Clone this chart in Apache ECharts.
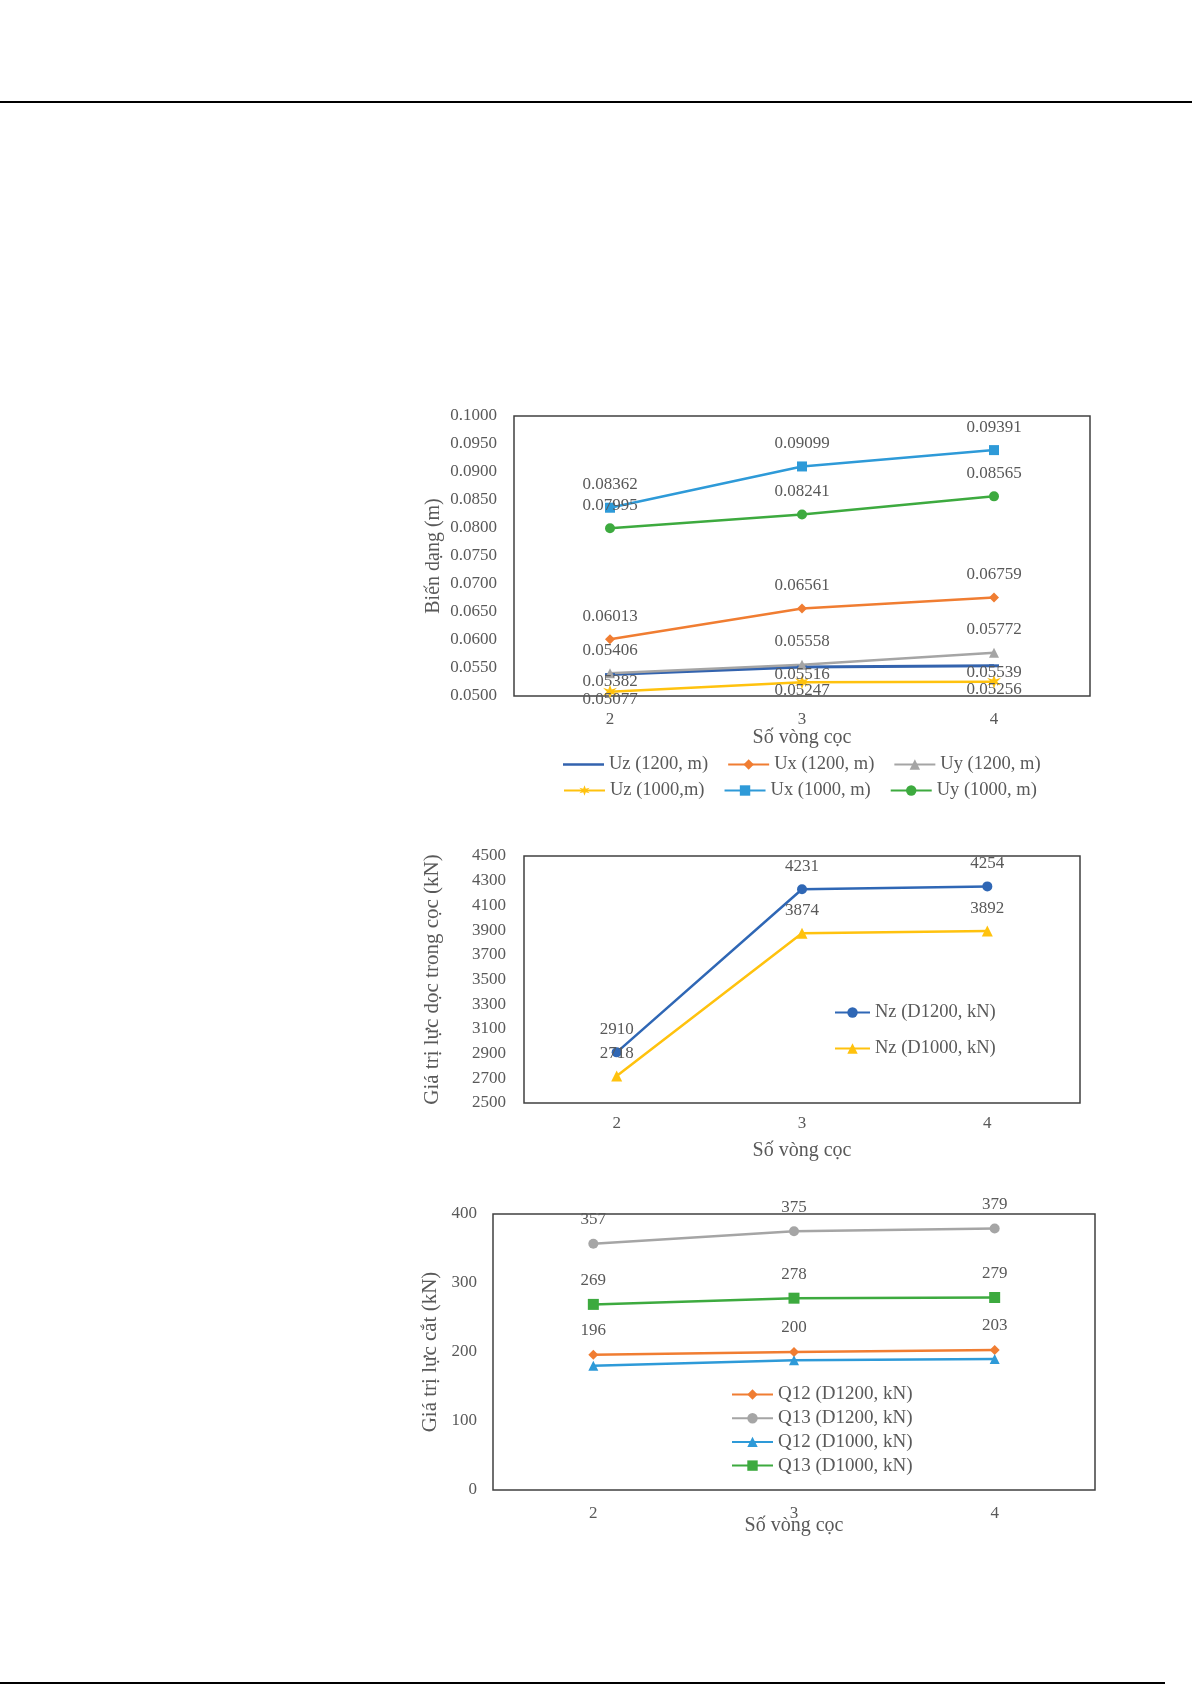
<!DOCTYPE html>
<html><head><meta charset="utf-8">
<script src="https://cdn.jsdelivr.net/npm/echarts@6/dist/echarts.min.js"></script>
<style>html,body{margin:0;padding:0;background:#fff}#c{width:1192px;height:1685px}</style>
</head><body><div id="c"></div><script>
// ---------- data ----------
const categories = ['2', '3', '4'];
// chart 1 : Biến dạng (m)
const uz1200 = [0.05382, 0.05516, 0.05539];
const ux1200 = [0.06013, 0.06561, 0.06759];
const uy1200 = [0.05406, 0.05558, 0.05772];
const uz1000 = [0.05077, 0.05247, 0.05256];
const ux1000 = [0.08362, 0.09099, 0.09391];
const uy1000 = [0.07995, 0.08241, 0.08565];
const yTicks1 = [0.05, 0.055, 0.06, 0.065, 0.07, 0.075, 0.08, 0.085, 0.09, 0.095, 0.1];
// chart 2 : Nz (kN)
const nz1200 = [2910, 4231, 4254];
const nz1000 = [2718, 3874, 3892];
const yTicks2 = [2500, 2700, 2900, 3100, 3300, 3500, 3700, 3900, 4100, 4300, 4500];
// chart 3 : Q (kN)
const q12d1200 = [196, 200, 203];
const q13d1200 = [357, 375, 379];
const q12d1000 = [180, 188, 190];
const q13d1000 = [269, 278, 279];
const yTicks3 = [0, 100, 200, 300, 400];

// ---------- style ----------
const FF = "'Liberation Serif','Times New Roman',serif";
const TXT = '#595959';
const C = {
  blueDark: '#3363AE', orange: '#F07D32', gray: '#A5A5A5',
  yellow: '#FFC20E', blue: '#2E9AD8', green: '#3DAA3F'
};
const starPath = 'path://M0,-10 L2.2,-3.2 L9,-5.5 L4,0 L9,5.5 L2.2,3.2 L0,10 L-2.2,3.2 L-9,5.5 L-4,0 L-9,-5.5 L-2.2,-3.2 Z';
const plainLineIcon = 'path://M0,0 L0.1,0 L0.1,0.1 Z M0,5.2 L41,5.2 L41,7.8 L0,7.8 Z M40.9,13 L41,13 L41,12.9 Z';

function lbl(dy, digits) {
  return {
    show: true, position: 'inside', offset: [0, dy],
    color: TXT, fontSize: 17, fontFamily: FF,
    formatter: p => digits ? Number(p.value).toFixed(digits) : String(p.value)
  };
}
function line(name, data, color, symbol, size, idx, label, width) {
  return {
    type: 'line', name, data, xAxisIndex: idx, yAxisIndex: idx,
    symbol, symbolSize: size, showSymbol: true,
    lineStyle: { color, width: width || 2.5 },
    itemStyle: { color },
    label: label || { show: false },
    z: 3
  };
}
function xAx(idx, margin, nameGap) {
  return {
    type: 'category', gridIndex: idx, data: categories, boundaryGap: true,
    axisLine: { show: false }, axisTick: { show: false }, splitLine: { show: false },
    axisLabel: { color: TXT, fontSize: 17, fontFamily: FF, margin },
    name: 'Số vòng cọc', nameLocation: 'middle', nameGap, nameMoveOverlap: false,
    nameTextStyle: { color: TXT, fontSize: 20, fontFamily: FF }
  };
}
function yAx(idx, min, max, ticks, fmt, name, nameGap, nameSize, margin) {
  return {
    type: 'value', gridIndex: idx, min, max,
    axisLine: { show: false }, axisTick: { show: false }, splitLine: { show: false },
    axisLabel: { color: TXT, fontSize: 17, fontFamily: FF, margin, customValues: ticks, formatter: fmt },
    name, nameLocation: 'middle', nameGap, nameRotate: 90,
    nameTextStyle: { color: TXT, fontSize: nameSize, fontFamily: FF }
  };
}
const gridBase = { show: true, borderColor: '#404040', borderWidth: 1.5, backgroundColor: 'transparent', containLabel: false };
const legText = (size, w) => ({ color: TXT, fontSize: size, fontFamily: FF, width: w, overflow: 'none' });

const option = {
  animation: false,
  backgroundColor: '#fff',
  grid: [
    Object.assign({ left: 514, top: 416, width: 576, height: 280 }, gridBase),
    Object.assign({ left: 524, top: 856, width: 556, height: 247 }, gridBase),
    Object.assign({ left: 493, top: 1214, width: 602, height: 276 }, gridBase)
  ],
  xAxis: [xAx(0, 15, 32), xAx(1, 12, 38), xAx(2, 15, 26)],
  yAxis: [
    yAx(0, 0.05, 0.1, yTicks1, v => v.toFixed(4), 'Biến dạng (m)', 70, 20, 17),
    yAx(1, 2500, 4500, yTicks2, v => String(v), 'Giá trị lực dọc trong cọc (kN)', 81, 21, 18),
    yAx(2, 0, 400, yTicks3, v => String(v), 'Giá trị lực cắt (kN)', 50, 21, 16)
  ],
  legend: [
    { left: 558, top: 750, itemWidth: 41, itemHeight: 13, itemGap: 19, textStyle: legText(18.5, 100),
      data: [{ name: 'Uz (1200, m)', icon: plainLineIcon }, 'Ux (1200, m)', 'Uy (1200, m)'] },
    { left: 558, top: 776, itemWidth: 41, itemHeight: 13, itemGap: 19, textStyle: legText(18.5, 100),
      data: ['Uz (1000,m)', 'Ux (1000, m)', 'Uy (1000, m)'] },
    { orient: 'vertical', left: 829, top: 998, itemWidth: 35, itemHeight: 13, itemGap: 17, textStyle: legText(18.5),
      data: ['Nz (D1200, kN)', 'Nz (D1000, kN)'] },
    { orient: 'vertical', left: 726, top: 1380, itemWidth: 41, itemHeight: 13, itemGap: 4.7, textStyle: legText(19),
      data: ['Q12 (D1200, kN)', 'Q13 (D1200, kN)', 'Q12 (D1000, kN)', 'Q13 (D1000, kN)'] }
  ],
  series: [
    line('Uz (1200, m)', uz1200, C.blueDark, 'rect', [10, 3], 0, lbl(7, 5), 3),
    line('Ux (1200, m)', ux1200, C.orange, 'diamond', 10, 0, lbl(-23, 5)),
    line('Uy (1200, m)', uy1200, C.gray, 'triangle', 10, 0, lbl(-23, 5)),
    line('Uz (1000,m)', uz1000, C.yellow, starPath, 14, 0, lbl(8, 5)),
    line('Ux (1000, m)', ux1000, C.blue, 'rect', 10, 0, lbl(-23, 5)),
    line('Uy (1000, m)', uy1000, C.green, 'circle', 10, 0, lbl(-23, 5)),

    line('Nz (D1200, kN)', nz1200, '#2F67B5', 'circle', 10, 1, lbl(-23)),
    line('Nz (D1000, kN)', nz1000, C.yellow, 'triangle', 11, 1, lbl(-23)),

    line('Q12 (D1200, kN)', q12d1200, C.orange, 'diamond', 10, 2, lbl(-24)),
    line('Q13 (D1200, kN)', q13d1200, C.gray, 'circle', 10, 2, lbl(-24)),
    line('Q12 (D1000, kN)', q12d1000, C.blue, 'triangle', 10, 2),
    line('Q13 (D1000, kN)', q13d1000, C.green, 'rect', 11, 2, lbl(-24))
  ],
  graphic: [
    { type: 'line', shape: { x1: 0, y1: 102, x2: 1192, y2: 102 }, style: { stroke: '#000', lineWidth: 2 } },
    { type: 'line', shape: { x1: 0, y1: 1683, x2: 1165, y2: 1683 }, style: { stroke: '#000', lineWidth: 2 } }
  ]
};
const chart = echarts.init(document.getElementById('c'));
chart.setOption(option);
</script></body></html>
